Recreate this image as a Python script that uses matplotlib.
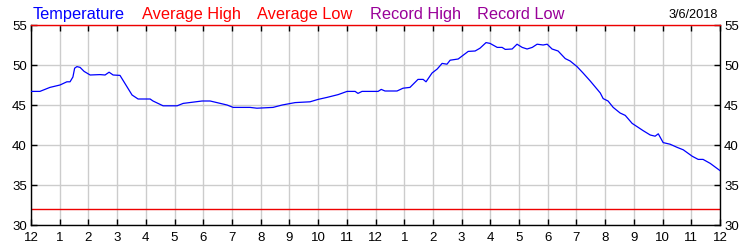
import matplotlib
matplotlib.use("Agg")
import matplotlib.pyplot as plt

plt.rcParams["font.family"] = ["Liberation Sans", "DejaVu Sans"]

# hours since midnight, temperature (F)
hours = [0.0, 0.31, 0.66, 1.01, 1.25, 1.36, 1.46, 1.52, 1.60, 1.71, 1.85, 2.06,
         2.40, 2.58, 2.72, 2.86, 3.10, 3.34, 3.52, 3.73, 4.15, 4.25, 4.60, 5.09,
         5.30, 5.96, 6.24, 6.83, 7.04, 7.63, 7.87, 8.43, 8.75, 9.20, 9.72, 10.0,
         10.31, 10.70, 11.01, 11.29, 11.39, 11.53, 12.09, 12.20, 12.33, 12.75,
         12.96, 13.20, 13.48, 13.66, 13.76, 13.97, 14.15, 14.32, 14.49, 14.60,
         14.88, 15.23, 15.47, 15.64, 15.85, 15.99, 16.24, 16.41, 16.52, 16.76,
         16.93, 17.11, 17.28, 17.46, 17.63, 17.84, 17.98, 18.15, 18.36, 18.61,
         18.78, 19.02, 19.23, 19.48, 19.83, 19.93, 20.10, 20.28, 20.52, 20.70,
         20.94, 21.11, 21.32, 21.57, 21.74, 21.85, 22.02, 22.26, 22.51, 22.72,
         23.03, 23.24, 23.41, 23.66, 24.0]
temps = [46.7, 46.7, 47.2, 47.5, 47.9, 47.9, 48.5, 49.6, 49.8, 49.7, 49.2, 48.75,
         48.8, 48.75, 49.1, 48.75, 48.7, 47.3, 46.25, 45.75, 45.75, 45.5, 44.9, 44.9,
         45.2, 45.5, 45.5, 45.0, 44.7, 44.7, 44.6, 44.7, 45.0, 45.3, 45.4, 45.7,
         45.95, 46.3, 46.7, 46.7, 46.45, 46.7, 46.7, 46.95, 46.75, 46.75,
         47.1, 47.2, 48.2, 48.2, 47.9, 49.0, 49.5, 50.2, 50.1, 50.6,
         50.75, 51.7, 51.75, 52.1, 52.8, 52.7, 52.2, 52.2, 51.95, 52.0,
         52.6, 52.2, 52.0, 52.2, 52.6, 52.5, 52.6, 52.0, 51.75, 50.8,
         50.5, 49.8, 49.0, 48.0, 46.5, 45.8, 45.5, 44.7, 44.0, 43.7,
         42.7, 42.3, 41.8, 41.25, 41.1, 41.4, 40.3, 40.1, 39.7, 39.4,
         38.6, 38.2, 38.2, 37.7, 36.8]

freezing = 32
x_labels = ["12", "1", "2", "3", "4", "5", "6", "7", "8", "9", "10", "11"] * 2 + ["12"]
y_ticks = [30, 35, 40, 45, 50, 55]

legend_items = ["Temperature", "Average High", "Average Low", "Record High", "Record Low"]
legend_colors = ["#0000ff", "#ff0000", "#ff0000", "#990099", "#990099"]
legend_x = [33, 142, 257, 370, 477]
date_text = "3/6/2018"

fig = plt.figure(figsize=(7.5, 2.5), dpi=100)
ax = fig.add_axes([31 / 750, 25 / 250, 689 / 750, 200 / 250])

ax.plot(hours, temps, color="#0000ff", lw=0.9, zorder=3)
ax.axhline(freezing, color="#ee0000", lw=1.0, zorder=2)

ax.set_xlim(0, 24)
ax.set_ylim(30, 55)
ax.set_xticks(range(25))
ax.set_xticklabels(x_labels)
ax.set_yticks(y_ticks)
ax.grid(True, color="#cccccc", lw=1.0, zorder=0)
ax.set_axisbelow(True)

ax.tick_params(direction="in", length=4, width=1, top=True, right=True,
               labelright=True, labelsize=9.5, pad=3, colors="black")
ax.tick_params(axis="x", pad=5)
for s in ["left", "bottom", "right"]:
    ax.spines[s].set_edgecolor("black")
    ax.spines[s].set_linewidth(1.0)
ax.spines["top"].set_edgecolor("#ee0000")
ax.spines["top"].set_linewidth(1.0)

# legend row above the plot
for label, col, xp in zip(legend_items, legend_colors, legend_x):
    fig.text(xp / 750, 1 - 19 / 250, label, color=col, fontsize=11.8,
             ha="left", va="baseline")
fig.text(718 / 750, 1 - 18 / 250, date_text, color="black", fontsize=9.2,
         ha="right", va="baseline")

fig.savefig("out.png", dpi=100)
